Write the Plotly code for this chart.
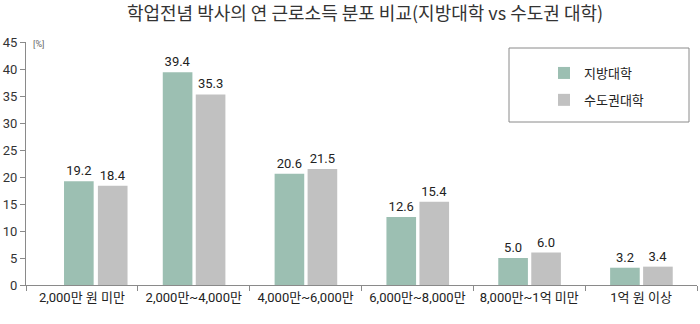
import plotly.graph_objects as go

# Annual earned income distribution of doctorate holders, by university location
categories = ["2,000만 원 미만", "2,000만~4,000만", "4,000만~6,000만",
              "6,000만~8,000만", "8,000만~1억 미만", "1억 원 이상"]
regional = [19.2, 39.4, 20.6, 12.6, 5.0, 3.2]
capital = [18.4, 35.3, 21.5, 15.4, 6.0, 3.4]
y_ticks = [0, 5, 10, 15, 20, 25, 30, 35, 40, 45]

GREEN = "#9cbfb2"
GRAY = "#c1c1c1"
AXIS = "#8a8a8a"
FONT = "Roboto, Noto Sans CJK KR, sans-serif"

W, H = 700, 324
L, R, T, B = 26, 3, 42, 39
PW, PH = W - L - R, H - T - B


def px_x(p):
    return (p - L) / PW


def px_y(p):
    return (H - B - p) / PH


bar_w = 0.265
# the first group sits a little right of its slot
off_green = [-0.16] + [-0.277] * (len(categories) - 1)
off_gray = [0.143] + [0.018] * (len(categories) - 1)

fig = go.Figure()
fig.add_trace(go.Bar(
    x=categories, y=regional, name="지방대학", legendgroup="a",
    marker=dict(color=GREEN, line=dict(width=0)),
    width=bar_w, offset=off_green,
    text=[f"{v:.1f}" for v in regional], textposition="outside",
    textfont=dict(size=13, color="#222", family=FONT),
    constraintext="none", cliponaxis=False,
))
fig.add_trace(go.Bar(
    x=categories, y=capital, name="수도권대학", legendgroup="b",
    marker=dict(color=GRAY, line=dict(width=0)),
    width=bar_w, offset=off_gray,
    text=[f"{v:.1f}" for v in capital], textposition="outside",
    textfont=dict(size=13, color="#222", family=FONT),
    constraintext="none", cliponaxis=False,
))

fig.update_layout(
    width=W, height=H,
    margin=dict(l=L, r=R, t=T, b=B, pad=0),
    paper_bgcolor="white", plot_bgcolor="white",
    barmode="overlay",
    font=dict(family=FONT, size=13, color="#333"),
    title=dict(
        text="학업전념 박사의 연 근로소득 분포 비교(지방대학 vs 수도권 대학)",
        x=px_x(365), xanchor="center", xref="paper",
        y=1 - 14 / H, yanchor="middle", yref="container",
        font=dict(size=18, color="#333", family="Noto Sans CJK KR, sans-serif"),
    ),
    xaxis=dict(
        type="category", range=[-0.5, len(categories) - 0.5],
        showline=True, linecolor=AXIS, linewidth=1,
        ticks="outside", ticklen=5, tickcolor=AXIS, tickson="boundaries",
        showgrid=False, zeroline=False,
        tickfont=dict(size=13, color="#222", family=FONT),
    ),
    yaxis=dict(
        range=[0, 45], tickvals=y_ticks,
        showline=True, linecolor=AXIS, linewidth=1,
        ticks="outside", ticklen=5, tickcolor=AXIS,
        showgrid=False, zeroline=False,
        tickfont=dict(size=13, color="#333", family=FONT),
    ),
    showlegend=True,
    legend=dict(
        x=px_x(544), y=px_y(58), xanchor="left", yanchor="top",
        bgcolor="rgba(0,0,0,0)", borderwidth=0,
        traceorder="grouped", tracegroupgap=7,
        font=dict(size=13, color="#222", family="Noto Sans CJK KR, sans-serif"),
    ),
    shapes=[dict(
        type="rect", xref="paper", yref="paper",
        x0=px_x(509), x1=px_x(689), y0=px_y(122), y1=px_y(48),
        line=dict(color="#8a8a8a", width=1), fillcolor="rgba(0,0,0,0)",
    )],
    annotations=[dict(
        text="[%]", xref="paper", yref="paper",
        x=px_x(31), y=px_y(44), xanchor="left", yanchor="middle",
        showarrow=False, font=dict(size=9, color="#666", family=FONT),
    )],
)

fig.write_html("out.html")
